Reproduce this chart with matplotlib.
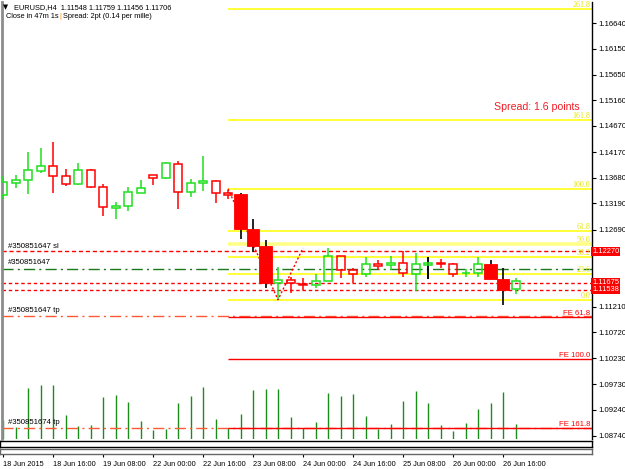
import numpy as np
import pandas as pd
import matplotlib
matplotlib.use("Agg")
import matplotlib.pyplot as plt
from matplotlib.patches import Rectangle

plt.rcParams['font.family'] = ['Liberation Sans', 'DejaVu Sans']

# ---------------- data ----------------
symbol = "EURUSD,H4"
days = ["2015-06-18", "2015-06-19", "2015-06-22", "2015-06-23",
        "2015-06-24", "2015-06-25", "2015-06-26"]
opens = [1.13350, 1.13585, 1.13631, 1.13815, 1.13910, 1.13713, 1.13555, 1.13822,
         1.13503, 1.13107, 1.13134, 1.13394, 1.13733, 1.13670, 1.13943, 1.13402,
         1.13574, 1.13618, 1.13388, 1.13369, 1.12700, 1.12375, 1.11673, 1.11724,
         1.11653, 1.11623, 1.11711, 1.12178, 1.11915, 1.11833, 1.12024, 1.12005,
         1.12055, 1.11845, 1.12017, 1.12044, 1.12030, 1.11852, 1.11852, 1.12030,
         1.11749, 1.11548]
highs = [1.13713, 1.13733, 1.14178, 1.14249, 1.14358, 1.13842, 1.13956, 1.13847,
         1.13555, 1.13216, 1.13503, 1.13637, 1.13742, 1.13981, 1.14006, 1.13656,
         1.14096, 1.13637, 1.13446, 1.13379, 1.12885, 1.12489, 1.11967, 1.11776,
         1.11768, 1.11839, 1.12331, 1.12183, 1.11948, 1.12170, 1.12107, 1.12183,
         1.12279, 1.12231, 1.12170, 1.12120, 1.12040, 1.11929, 1.12170, 1.12107,
         1.11948, 1.11759]
lows = [1.13268, 1.13478, 1.13363, 1.13771, 1.13383, 1.13528, 1.13541, 1.13484,
        1.12954, 1.12891, 1.13050, 1.13383, 1.13541, 1.13650, 1.13088, 1.13318,
        1.13427, 1.13191, 1.13268, 1.12508, 1.12266, 1.11565, 1.11355, 1.11481,
        1.11533, 1.11565, 1.11705, 1.11757, 1.11661, 1.11776, 1.11915, 1.11915,
        1.11787, 1.11520, 1.11743, 1.11948, 1.11787, 1.11776, 1.11787, 1.11737,
        1.11246, 1.11456]
closes = [1.13604, 1.13637, 1.13822, 1.13910, 1.13708, 1.13566, 1.13822, 1.13497,
          1.13121, 1.13134, 1.13407, 1.13478, 1.13681, 1.13962, 1.13402, 1.13574,
          1.13618, 1.13383, 1.13356, 1.12694, 1.12375, 1.11661, 1.11724, 1.11673,
          1.11623, 1.11711, 1.12178, 1.11915, 1.11839, 1.12024, 1.11998, 1.12055,
          1.11852, 1.12024, 1.12044, 1.12030, 1.11839, 1.11864, 1.12024, 1.11749,
          1.11527, 1.11706]
volumes = [7600, 4640, 20400, 21600, 21320, 9320, 4920, 5320, 16640, 17320,
           14640, 6920, 3320, 4000, 14400, 16920, 20640, 7720, 4400, 9720,
           19320, 20000, 20000, 8640, 4400, 6640, 18240, 16920, 17720, 8920,
           3720, 5720, 15040, 19040, 14400, 5320, 3040, 6240, 11720, 14120,
           18520, 6000]
signal_bars = [19, 20, 21, 39, 40]
black_wick_bars = [19, 20, 21, 34, 39, 40]

# Fibonacci retracement / expansion
fib_low = 1.11345
fib_high = 1.13470
fib_levels = [0.0, 23.6, 38.2, 50.0, 61.8, 100.0, 161.8, 261.8]
fib_start_bar = 18
fe_base = 1.12336
fe_levels = [61.8, 100.0, 161.8]
zigzag_bars = [18, 22, 24]
zigzag_prices = [1.13470, 1.11345, 1.12336]

# order lines
sl_price = 1.12270
entry_price = 1.11930
open_prices = [1.11675, 1.11538]
tp_prices = [1.11036, 1.08899]
sl_label = "#350851647 sl"
entry_label = "#350851647"
tp_labels = ["#350851647 tp", "#350851674 tp"]

ytick_values = [1.16640, 1.16150, 1.15650, 1.15160, 1.14670, 1.14170, 1.13680,
                1.13190, 1.12690, 1.12200, 1.11700, 1.11210, 1.10720, 1.10230,
                1.09730, 1.09240, 1.08740]
hidden_tick_values = [1.12200, 1.11700]   # covered by the price boxes
header_line1 = "EURUSD,H4  1.11548 1.11759 1.11456 1.11706"
header_close = "Close in 47m 1s"
header_spread = "Spread: 2pt (0.14 per mille)"
spread_text = "Spread: 1.6 points"

# bar times
times = [pd.Timestamp(d) + pd.Timedelta(hours=h) for d in days for h in range(0, 24, 4)]
n = len(opens)
idx = np.arange(n)

# ---------------- layout helpers ----------------
W, H = 625, 469
fig = plt.figure(figsize=(W / 100, H / 100), dpi=100)
fig.patch.set_facecolor("white")

def px_axes(x0, y0, x1, y1):
    return fig.add_axes([x0 / W, 1 - y1 / H, (x1 - x0) / W, (y1 - y0) / H])

BAR_PX = 12.5
BAR0_PX = 3.0
def xlim_for(x0, x1):
    return ((x0 - BAR0_PX) / BAR_PX, (x1 - BAR0_PX) / BAR_PX)

PLOT_R = 592
ax = px_axes(2, 2, PLOT_R, 438.5)
ax.set_xlim(*xlim_for(2, PLOT_R))
ax.set_ylim(1.08692, 1.17042)
ax.set_facecolor("white")

RED = "#ff0000"
GREEN = "#1ee01e"
YELLOW = "#ffff00"

# volumes on twin axis
axv = ax.twinx()
axv.set_ylim(0, 400 * 436.5)
axv.vlines(idx, 0, volumes, color="#1a8c1a", lw=1.0, zorder=1)
axv.set_yticks([])
for s in axv.spines.values():
    s.set_visible(False)
ax.set_zorder(axv.get_zorder() + 1)
ax.patch.set_visible(False)
axv.set_facecolor("white")

xl = ax.get_xlim()
# order lines (full width)
ax.axhline(sl_price, color=RED, lw=1.0, ls=(0, (3, 2)), zorder=2)
ax.axhline(entry_price, color="#1a7a1a", lw=1.0, ls=(0, (8, 3, 1.5, 3)), zorder=2)
for p in open_prices:
    ax.axhline(p, color=RED, lw=1.0, ls=(0, (2.5, 2)), zorder=2)
for p in tp_prices:
    ax.axhline(p, color="#ff5a36", lw=1.0, ls=(0, (8, 3, 1.5, 3)), zorder=2)

# fib retracement lines
fib_prices = [fib_low + (fib_high - fib_low) * l / 100 for l in fib_levels]
for l, p in zip(fib_levels, fib_prices):
    if l == 50.0:
        ax.hlines(p, fib_start_bar, xl[1], color="#ffff88", lw=2.6, zorder=2)
    else:
        ax.hlines(p, fib_start_bar, xl[1], color=YELLOW, lw=1.1, zorder=2)
    ax.text(xl[1] - 0.15, p, f"{l:.1f}", color="#e6e600", fontsize=5.8,
            family=["Liberation Serif"], ha="right", va="bottom", zorder=3)

# fib expansion lines
fe_prices = [fe_base - (fib_high - fib_low) * l / 100 for l in fe_levels]
for l, p in zip(fe_levels, fe_prices):
    ax.hlines(p, fib_start_bar, xl[1], color=RED, lw=1.0, zorder=3)
    ax.text(xl[1] - 0.15, p, f"FE {l:.1f}", color=RED, fontsize=5.6,
            ha="right", va="bottom", zorder=3)

# zigzag (dotted)
ax.plot(zigzag_bars, zigzag_prices, color=RED, lw=1.0, ls=(0, (1.5, 1.5)), zorder=2)

# candles
for i in range(n):
    o, h, l, c = opens[i], highs[i], lows[i], closes[i]
    up = c >= o
    col = GREEN if up else RED
    top, bot = max(o, c), min(o, c)
    if i in signal_bars:
        ax.vlines(i, l, h, color="black", lw=1.2, zorder=4)
        ax.add_patch(Rectangle((i - 0.49, bot), 0.98, top - bot, facecolor=RED,
                               edgecolor=RED, lw=0.6, zorder=5))
    else:
        wcol = "black" if i in black_wick_bars else col
        ax.vlines(i, top, h, color=wcol, lw=1.1, zorder=4)
        ax.vlines(i, l, bot, color=wcol, lw=1.1, zorder=4)
        if i in black_wick_bars:
            ax.vlines(i, l, h, color=wcol, lw=1.1, zorder=4)
        ax.add_patch(Rectangle((i - 0.32, bot), 0.64, max(top - bot, 1e-6),
                               facecolor="none", edgecolor=col, lw=1.1, zorder=5))

# order labels (left)
lab_x = xlim_for(8, 8)[0]
ax.text(lab_x, sl_price + 0.00035, sl_label, fontsize=5.6, va="bottom", ha="left", zorder=6)
ax.text(lab_x, entry_price + 0.00055, entry_label, fontsize=5.6, va="bottom", ha="left", zorder=6)
for p, t in zip(tp_prices, tp_labels):
    ax.text(lab_x, p + 0.00035, t, fontsize=5.6, va="bottom", ha="left", zorder=6)

# spread text
ax.text(xl[1] - 1.0, 1.15025, spread_text, color="#ee1c25", fontsize=7.6,
        ha="right", va="center", zorder=6)

# axes styling
ax.yaxis.tick_right()
ax.set_yticks(ytick_values)
ax.set_yticklabels(["" if v in hidden_tick_values else f"{v:.5f}" for v in ytick_values])
ax.tick_params(axis="y", direction="out", length=3, width=0.8, pad=1.5,
               labelsize=5.6, colors="black")
ax.set_xticks([])
for side in ["top", "bottom"]:
    ax.spines[side].set_visible(False)
ax.spines["right"].set_color("black")
ax.spines["right"].set_linewidth(1.0)
ax.spines["left"].set_color("#8c8c8c")
ax.spines["left"].set_linewidth(2.0)

# price boxes on right axis
for p in [sl_price] + open_prices:
    ax.text(1.0, p, f"{p:.5f}", transform=ax.get_yaxis_transform(),
            ha="left", va="center", color="white", fontsize=5.4, zorder=10,
            clip_on=False,
            bbox=dict(boxstyle="square,pad=0.12", fc=RED, ec=RED, lw=0))

# two thin sub-windows at the bottom
sub1 = px_axes(0, 441, PLOT_R, 447)
sub2 = px_axes(0, 449, PLOT_R, 454)
for s in (sub1, sub2):
    s.set_xlim(*xlim_for(0, PLOT_R))
    s.set_yticks([])
    s.set_xticks([])
    for sp in s.spines.values():
        sp.set_linewidth(1.0)
        sp.set_color("black")
for sp in sub2.spines.values():
    sp.set_color("#666666")

tick_idx = list(range(0, n, 4))
tick_lbls = [times[0].strftime("%d %b %Y")] + [times[i].strftime("%d %b %H:%M") for i in tick_idx[1:]]
sub2.set_xticks(tick_idx)
sub2.set_xticklabels(tick_lbls, ha="left")
sub2.tick_params(axis="x", direction="out", length=2.5, width=0.8, pad=2.5, labelsize=5.3)

# header texts
def ftext(x, y, s, **kw):
    fig.text(x / W, 1 - y / H, s, va="center", ha="left", **kw)

ftext(3, 7.5, "\u25bc", fontsize=4.8, family=["DejaVu Sans"])
ftext(14, 7.5, header_line1, fontsize=5.3)
ftext(6, 17, header_close, fontsize=5.3)
ftext(59.5, 17, "|", fontsize=5.3, color="#ff8c00")
ftext(63, 17, header_spread, fontsize=5.3)

fig.savefig("out.png", dpi=100, facecolor="white")
